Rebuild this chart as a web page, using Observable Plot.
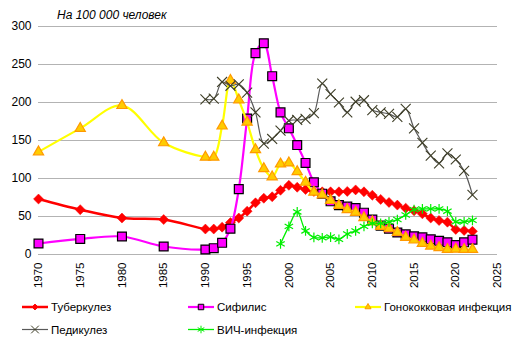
<!DOCTYPE html>
<html><head><meta charset="utf-8">
<script src="https://cdn.jsdelivr.net/npm/d3@7"></script>
<script src="https://cdn.jsdelivr.net/npm/@observablehq/plot@0.6"></script>
<style>
body{margin:0;background:#fff;}
#wrap{position:relative;width:520px;height:356px;font-family:"Liberation Sans",Arial,sans-serif;color:#000;}
#title{position:absolute;left:57px;top:8px;font-style:italic;font-size:12px;white-space:nowrap;}
#legend{position:absolute;left:0;top:290px;}
</style></head><body>
<div id="wrap"><div id="chart"></div><div id="title">На 100 000 человек</div><svg id="legend" width="520" height="66"></svg></div>
<script>
const yearsLong = [1970,1975,1980,1985,1990,1991,1992,1993,1994,1995,1996,1997,1998,1999,2000,2001,2002,2003,2004,2005,2006,2007,2008,2009,2010,2011,2012,2013,2014,2015,2016,2017,2018,2019,2020,2021,2022];
const yearsPed = [1990,1991,1992,1993,1994,1995,1996,1997,1998,1999,2000,2001,2002,2003,2004,2005,2006,2007,2008,2009,2010,2011,2012,2013,2014,2015,2016,2017,2018,2019,2020,2021,2022];
const yearsHiv = [1999,2000,2001,2002,2003,2004,2005,2006,2007,2008,2009,2010,2011,2012,2013,2014,2015,2016,2017,2018,2019,2020,2021,2022];

const tuberculosis = [73,59,48,46,33.5,33.5,36,42,48,57,68,74,76,84.5,91,88.5,85.5,83,82.5,82.5,82.5,83,85,82.5,78,72.5,68.5,65,61,57.5,53.5,48,44.7,42.5,33,31.6,30.5];
const syphilis = [14.5,20.5,23.7,10.5,6.6,8.3,15.4,34,86,179,265,278,234.6,187,166,144,120.5,95,80,70,65,63,61,55,46,38,34,29,26.5,24,22.5,20,18,16,12.5,16,19.5];
const gonorrhea = [135,166,196,147,128,128,169,229,203.5,174,138,113,102,119,120.5,109,95,82,78.5,71,64.5,59,55.5,48.5,43,37,34,29,22.5,19,14.5,11,9,6.6,7,6.6,6.6];
const pediculosis = [204,205,227,222,224,213,187,146,152,163,176,177,178.5,186,225,211,200,187,201,203,190,187,185,181,191.5,166,147,130,120,133,125,110,78.5];
const hiv = [14,37,56,31,22.5,22,23,20,27,31,37,41,41,43,46,52,59,60,60,60,57,43,43,45];

const seriesNames = ["Туберкулез","Сифилис","Гонококковая инфекция","Педикулез","ВИЧ-инфекция"];
const xTicks = [1970,1975,1980,1985,1990,1995,2000,2005,2010,2015,2020,2025];
const yTicks = [0,50,100,150,200,250,300];

const toRows = (ys, vs) => ys.map((year, i) => ({year, value: vs[i]}));
const tbRows = toRows(yearsLong, tuberculosis);
const syRows = toRows(yearsLong, syphilis);
const goRows = toRows(yearsLong, gonorrhea);
const peRows = toRows(yearsPed, pediculosis);
const hiRows = toRows(yearsHiv, hiv);

const curve = "catmull-rom";
const chart = Plot.plot({
  width: 520, height: 290,
  marginLeft: 38, marginRight: 23, marginTop: 26, marginBottom: 36,
  x: {domain: [1970, 2025]},
  y: {domain: [0, 300]},
  style: {fontFamily: "'Liberation Sans', Arial, sans-serif", fontSize: "12px", color: "#000", background: "transparent"},
  marks: [
    Plot.gridY(yTicks, {stroke: "#b3b3b3", strokeOpacity: 1}),
    Plot.axisY(yTicks, {tickSize: 0, tickPadding: 7, label: null, fontSize: 12}),
    Plot.axisX(xTicks, {tickSize: 0, tickRotate: -90, tickPadding: 8, label: null, tickFormat: d => String(d), fontSize: 11.5}),
    Plot.line(tbRows, {x: "year", y: "value", stroke: "#ff0000", strokeWidth: 2.5, curve}),
    Plot.dot(tbRows, {x: "year", y: "value", symbol: "diamond2", r: 4.5, fill: "#ff0000", stroke: "#ff0000", strokeWidth: 0.5}),
    Plot.line(syRows, {x: "year", y: "value", stroke: "#ff00ff", strokeWidth: 2.2, curve}),
    Plot.dot(syRows, {x: "year", y: "value", symbol: "square", r: 5, fill: "#ff00ff", stroke: "#000", strokeWidth: 1.2}),
    Plot.line(goRows, {x: "year", y: "value", stroke: "#ffff00", strokeWidth: 2.2, curve}),
    Plot.dot(goRows, {x: "year", y: "value", symbol: "triangle", r: 3.8, fill: "#ffcc00", stroke: "#ff9900", strokeWidth: 1.2}),
    Plot.line(peRows, {x: "year", y: "value", stroke: "#595959", strokeWidth: 1.2, curve}),
    Plot.dot(peRows, {x: "year", y: "value", symbol: "times", r: 4.6, stroke: "#3d3d26", strokeWidth: 1.1}),
    Plot.line(hiRows, {x: "year", y: "value", stroke: "#00ee00", strokeWidth: 1.3, curve}),
    Plot.dot(hiRows, {x: "year", y: "value", symbol: "asterisk", r: 4.6, stroke: "#00ee00", strokeWidth: 1.2})
  ]
});
document.getElementById("chart").appendChild(chart);

// legend
const lg = d3.select("#legend");
const items = [
  {x0: 22, y: 17, color: "#ff0000", w: 2.5, sym: d3.symbolDiamond2, size: 22, fill: "#ff0000", stroke: "#ff0000"},
  {x0: 188, y: 17, color: "#ff00ff", w: 2.2, sym: d3.symbolSquare, size: 30, fill: "#ff00ff", stroke: "#000"},
  {x0: 355, y: 17, color: "#ffff00", w: 2.2, sym: d3.symbolTriangle, size: 16, fill: "#ffcc00", stroke: "#ff9900"},
  {x0: 22, y: 39.5, color: "#595959", w: 1.2, sym: d3.symbolTimes, size: 40, fill: "none", stroke: "#3d3d26"},
  {x0: 188, y: 39.5, color: "#00ee00", w: 1.3, sym: d3.symbolAsterisk, size: 40, fill: "none", stroke: "#00ee00"}
];
items.forEach((it, i) => {
  const g = lg.append("g");
  g.append("line").attr("x1", it.x0).attr("x2", it.x0 + 26).attr("y1", it.y).attr("y2", it.y)
    .attr("stroke", it.color).attr("stroke-width", it.w);
  g.append("path").attr("d", d3.symbol(it.sym, it.size)()).attr("transform", `translate(${it.x0 + 13},${it.y})`)
    .attr("fill", it.fill).attr("stroke", it.stroke).attr("stroke-width", 1);
  g.append("text").attr("x", it.x0 + 29).attr("y", it.y + 4).attr("font-size", 11.5)
    .attr("font-family", "'Liberation Sans', Arial, sans-serif").text(seriesNames[i]);
});
</script>
</body></html>
